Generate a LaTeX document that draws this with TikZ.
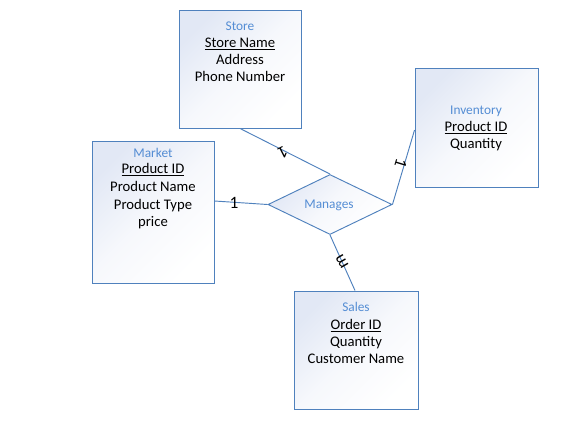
\documentclass[tikz,border=0pt]{standalone}
\usepackage{fontspec}
\setmainfont{Carlito}
\usetikzlibrary{shapes.geometric,calc}
\definecolor{bordc}{RGB}{79,129,189}
\definecolor{titc}{RGB}{84,141,212}
\definecolor{fillc}{RGB}{226,232,245}
\begin{document}
\begin{tikzpicture}[x=0.75pt,y=-0.75pt,
  entbox/.style={draw=bordc,line width=0.7pt,shading=axis,top color=white,bottom color=fillc,middle color=white!70!fillc,shading angle=225,inner sep=0pt},
  ttl/.style={font=\fontsize{10}{12}\selectfont,text=titc,inner sep=0pt,text height=1.6ex,text depth=.3ex},
  attr/.style={font=\fontsize{11}{13}\selectfont,text=black,inner sep=0pt,text height=1.6ex,text depth=.3ex},
  conn/.style={draw=bordc,line width=0.7pt},
  card/.style={font=\fontsize{13}{15}\selectfont,inner sep=0pt}]
\useasboundingbox[fill=white] (0,0) rectangle (567,439);
% entities
\node[entbox,minimum width=91.5pt,minimum height=88.5pt] (store) at (240,69) {};
\node[entbox,minimum width=92.25pt,minimum height=89.25pt] (inv) at (476.5,127.5) {};
\node[entbox,minimum width=91.5pt,minimum height=106.5pt] (market) at (153,212) {};
\node[entbox,minimum width=93pt,minimum height=88.5pt] (sales) at (356,350) {};
\node[diamond,entbox,minimum width=93pt,minimum height=45pt] (dia) at (330,204.5) {};
% texts
\node[ttl] (st0) at (240,26) {Store};
\node[attr] (st1) at (240,43) {\underline{Store Name}};
\node[attr] (st2) at (240,60) {Address};
\node[attr] (st3) at (240,77) {Phone Number};
\node[ttl] (in0) at (476,110) {Inventory};
\node[attr] (in1) at (476,127) {\underline{Product ID}};
\node[attr] (in2) at (476,144) {Quantity};
\node[ttl] (mk0) at (153,153) {Market};
\node[attr] (mk1) at (153,169) {\underline{Product ID}};
\node[attr] (mk2) at (153,187) {Product Name};
\node[attr] (mk3) at (153,205) {Product Type};
\node[attr] (mk4) at (153,222) {price};
\node[ttl] (sa0) at (356,307) {Sales};
\node[attr] (sa1) at (356,325) {\underline{Order ID}};
\node[attr] (sa2) at (356,342) {Quantity};
\node[attr] (sa3) at (356,359) {Customer Name};
\node[ttl] (dt) at (329,204) {Manages};
% connectors
\draw[conn] (store.south) -- (dia.north);
\draw[conn] ([yshift=8.25pt]market.east) -- (dia.west);
\draw[conn] ([yshift=-1.9pt]inv.west) -- (dia.east);
\draw[conn] ([xshift=-0.75pt]sales.north) -- (dia.south);
% cardinalities
\node[card,rotate=207] (c1) at (283,152) {1};
\node[card] (c2) at (234,203) {1};
\node[card,rotate=-107] (c3) at (401,163) {1};
\node[card,rotate=120] (c4) at (342,262) {m};
\end{tikzpicture}
\end{document}
